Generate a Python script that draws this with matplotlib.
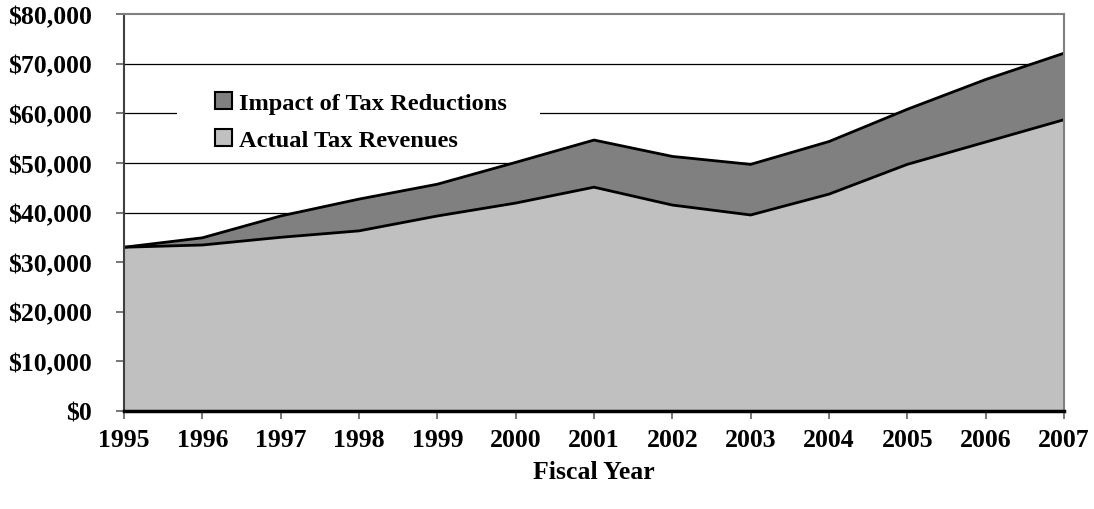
import matplotlib
matplotlib.use("Agg")
import matplotlib.pyplot as plt
from matplotlib.patches import Rectangle, Patch
from matplotlib.ticker import FuncFormatter

years = [1995, 1996, 1997, 1998, 1999, 2000, 2001, 2002, 2003, 2004, 2005, 2006, 2007]
actual = [33000, 33450, 35000, 36300, 39300, 41900, 45100, 41500, 39500, 43700, 49700, 54200, 58700]
total = [33000, 34900, 39300, 42700, 45700, 50100, 54600, 51300, 49700, 54300, 60800, 66800, 72100]
impact = [t - a for t, a in zip(total, actual)]
labels = ["Impact of Tax Reductions", "Actual Tax Revenues"]

plt.rcParams['font.family'] = ['Liberation Serif', 'DejaVu Serif']
plt.rcParams['font.weight'] = 'bold'

fig = plt.figure(figsize=(10.94, 5.10), dpi=100)
ax = fig.add_axes([124/1094, 1-412/510, 940/1094, 397/510])

light = '#c0c0c0'
dark = '#808080'
ax.fill_between(years, 0, actual, facecolor=light, edgecolor='none', zorder=2)
ax.fill_between(years, actual, total, facecolor=dark, edgecolor='none', zorder=2)
ax.plot(years, actual, color='black', lw=2, zorder=3)
ax.plot(years, total, color='black', lw=2, zorder=3)
ax.plot([years[-1], years[-1]], [0, total[-1]], color='black', lw=2, zorder=3)

ax.set_xlim(1995, 2007)
ax.set_ylim(0, 80000)
ax.set_yticks(range(0, 80001, 10000))
ax.set_xticks(years)
ax.yaxis.set_major_formatter(FuncFormatter(lambda v, p: "${:,.0f}".format(v)))

for v in range(10000, 80000, 10000):
    ax.axhline(v, color='black', lw=0.9, zorder=1)

ax.add_patch(Rectangle(((177-124)/940, (412-158)/397), (540-177)/940, (158-80)/397,
                       transform=ax.transAxes, facecolor='white', edgecolor='none', zorder=1.5))

ax.spines['top'].set_color('#808080')
ax.spines['top'].set_linewidth(1.5)
ax.spines['right'].set_color('#808080')
ax.spines['right'].set_linewidth(1.5)
ax.spines['left'].set_color('#404040')
ax.spines['left'].set_linewidth(1.5)
ax.spines['bottom'].set_color('black')
ax.spines['bottom'].set_linewidth(2.5)
for s in ax.spines.values():
    s.set_zorder(4)

ax.tick_params(axis='y', direction='out', length=6, width=1.2, color='#606060', pad=17, labelsize=18.5)
ax.tick_params(axis='x', direction='out', length=6, width=1.2, color='#606060', pad=6, labelsize=18.5)
for t in ax.get_xticklabels() + ax.get_yticklabels():
    t.set_fontweight('bold')

ax.set_xlabel("Fiscal Year", fontsize=18.5, fontweight='bold', labelpad=7)

handles = [Patch(facecolor=dark, edgecolor='black', lw=1.5),
           Patch(facecolor=light, edgecolor='black', lw=1.5)]
leg = ax.legend(handles, labels, loc='upper left',
                bbox_to_anchor=((215-124)/940, (412-93)/397),
                frameon=False, borderpad=0, borderaxespad=0,
                handlelength=0.68, handleheight=0.68, handletextpad=0.3,
                labelspacing=0.62, prop={'size': 17.6, 'weight': 'bold'})
leg.set_zorder(5)

fig.savefig("out.png", dpi=100)
